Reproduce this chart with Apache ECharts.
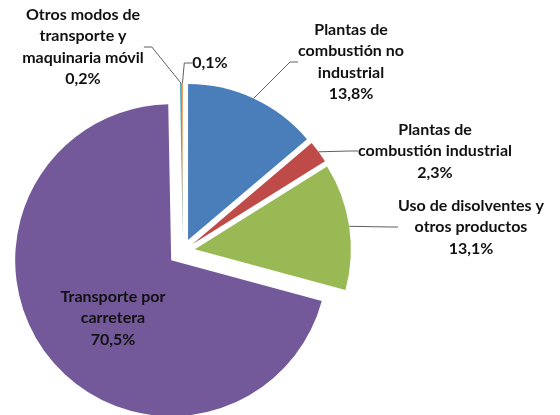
<!DOCTYPE html>
<html>
<head>
<meta charset="utf-8">
<script src="https://cdn.jsdelivr.net/npm/echarts@6/dist/echarts.min.js"></script>
<style>
    html, body { margin: 0; padding: 0; background: #fff; }
    #chart { width: 560px; height: 415px; }
</style>
</head>
<body>
<div id="chart"></div>
<script>
// categories, clockwise from 12 o'clock
const names = [
    'Plantas de\ncombustión no\nindustrial',
    'Plantas de\ncombustión industrial',
    'Uso de disolventes y\notros productos',
    'Transporte por\ncarretera',
    'Otros modos de\ntransporte y\nmaquinaria móvil',
    ''
];
const shares = [13.8, 2.3, 13.1, 70.5, 0.2, 0.1];
const colors = ['#4A7EBB', '#BE4B48', '#98B954', '#74599A', '#4BACC6', '#F79646'];

// layout: pie centre, radius, how far each slice is pulled out, label centres
const pieCenter = [183, 251];
const pieRadius = 156;
const explode = [12, 12, 12, 15, 12, 12];
const labelSpots = [
    [351, 62],
    [435, 151],
    [471, 227],
    [113, 318],
    [83, 47],
    [210, 63]
];

const fmtPct = v => v.toFixed(1).replace('.', ',') + '%';

const chart = echarts.init(document.getElementById('chart'));

// one pie per slice so every slice can be pulled out on its own
const total = shares.reduce((a, b) => a + b, 0);
let acc = 0;
const series = shares.map((share, i) => {
    const mid = (acc + share / 2) / total * Math.PI * 2;
    acc += share;
    const spot = labelSpots[i];
    return {
        type: 'pie',
        silent: true,
        center: [
            pieCenter[0] + explode[i] * Math.sin(mid),
            pieCenter[1] - explode[i] * Math.cos(mid)
        ],
        radius: pieRadius,
        startAngle: 90,
        clockwise: true,
        minAngle: 0,
        avoidLabelOverlap: false,
        label: {
            position: i === 3 ? 'inside' : 'outside',
            fontFamily: 'Lato',
            fontWeight: 'bold',
            fontSize: 16,
            lineHeight: 21.5,
            color: '#111',
            align: 'center',
            formatter: p => (p.name ? p.name + '\n' : '') + fmtPct(p.value)
        },
        labelLine: {
            length: 10,
            length2: 8,
            lineStyle: { color: '#5e5e5e', width: 1 }
        },
        labelLayout: () => ({ x: spot[0], y: spot[1], align: 'center', verticalAlign: 'middle' }),
        emphasis: { disabled: true },
        data: names.map((name, j) => ({
            name: name,
            value: shares[j],
            itemStyle: { color: j === i ? colors[j] : 'transparent' },
            label: { show: j === i },
            labelLine: { show: j === i && i !== 3 }
        }))
    };
});

chart.setOption({ animation: false, series: series });
</script>
</body>
</html>
